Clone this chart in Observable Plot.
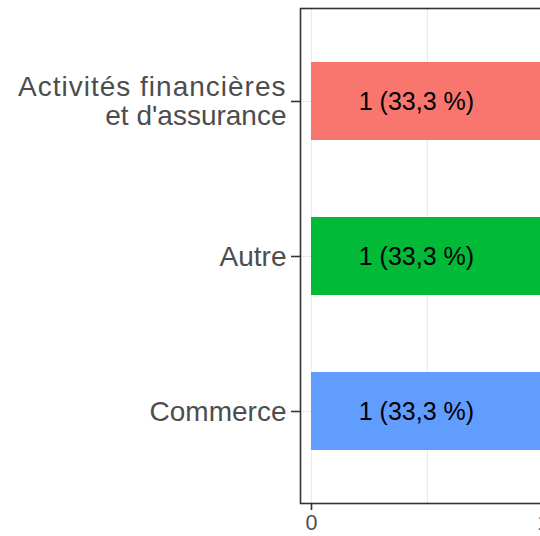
<!DOCTYPE html>
<html>
<head>
<meta charset="utf-8">
<script src="https://cdn.jsdelivr.net/npm/d3@7"></script>
<script src="https://cdn.jsdelivr.net/npm/@observablehq/plot@0.6"></script>
<style>
html, body { margin: 0; padding: 0; background: #fff; overflow: hidden; }
#chart svg { max-width: none !important; }
</style>
</head>
<body>
<div id="chart"></div>
<script>
const categories = ["Activités financières\net d'assurance", "Autre", "Commerce"];
const counts = [1, 1, 1];
const labels = ["1 (33,3 %)", "1 (33,3 %)", "1 (33,3 %)"];
const colors = ["#F8766D", "#00BA38", "#619CFF"];
const xTicks = [0, 1];
const xGrid = [0, 0.5, 1];

const data = categories.map((c, i) => ({cat: c, value: counts[i], label: labels[i]}));

const font = "Liberation Sans, Arial, sans-serif";

const chart = Plot.plot({
  width: 600,
  height: 536,
  marginLeft: 300,
  marginRight: 34,
  marginTop: 8,
  marginBottom: 33,
  style: {fontFamily: font, background: "#fff", maxWidth: "none"},
  x: {domain: [-0.0474, 1.1]},
  y: {domain: categories, paddingInner: 0.497, paddingOuter: 0.345},
  color: {domain: categories, range: colors},
  marks: [
    Plot.ruleX(xGrid, {stroke: "#ebebeb", strokeWidth: 1.2}),
    Plot.ruleY(categories, {y: d => d, stroke: "#ebebeb", strokeWidth: 1.2}),
    Plot.barX(data, {y: "cat", x: "value", fill: "cat"}),
    Plot.text(data, {y: "cat", x: d => d.value / 2, dx: -11, text: "label", fill: "black", fontSize: 25}),
    Plot.frame({stroke: "#333", strokeWidth: 1.6}),
    Plot.axisY({
      tickSize: 9, tickPadding: 5, fontSize: 28, lineHeight: 1.04,
      stroke: "#333", strokeWidth: 1.6, color: "#4d4d4d", label: null
    }),
    Plot.axisX(xTicks, {
      tickSize: 7, tickPadding: 4, fontSize: 21.5, stroke: "#333", strokeWidth: 1.6,
      color: "#4d4d4d", label: null, tickFormat: d => String(d)
    })
  ]
});

// the reference renders the narrow glyphs of the long first line slightly wider
d3.select(chart).selectAll("tspan")
  .filter(function() { return this.textContent.startsWith("Activités"); })
  .style("letter-spacing", "1px");

document.getElementById("chart").appendChild(chart);
</script>
</body>
</html>
